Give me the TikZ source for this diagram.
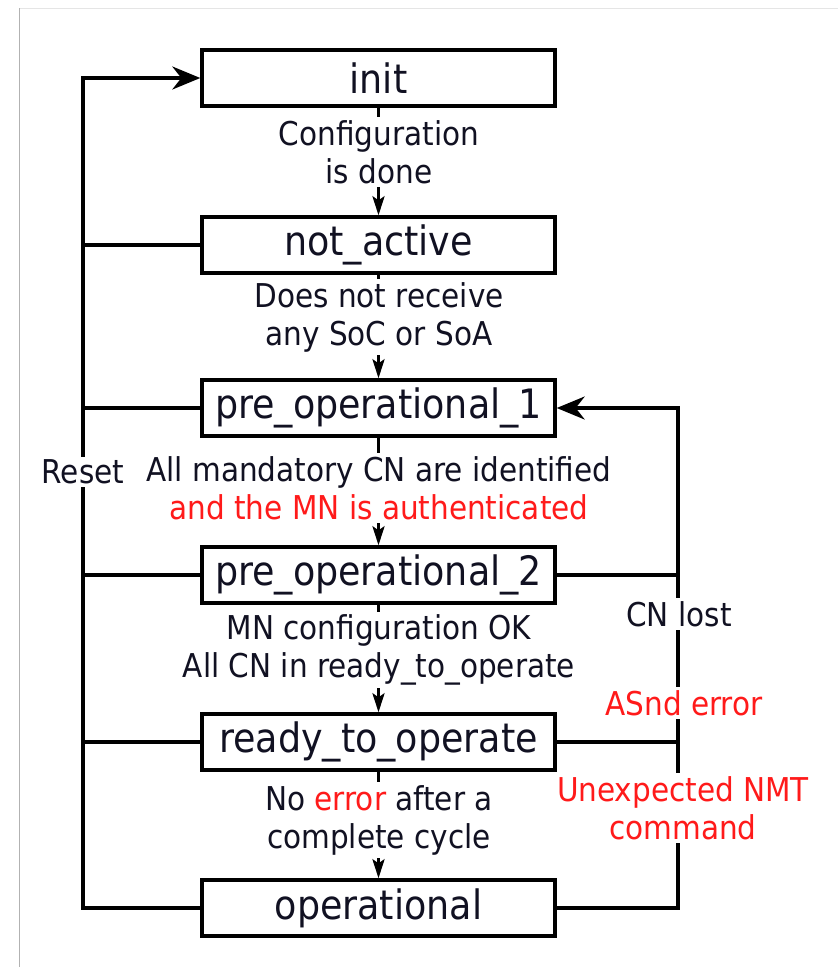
\documentclass[tikz,border=0pt]{standalone}
\usepackage{fontspec}
\setmainfont{DejaVu Sans Condensed}
\usetikzlibrary{arrows.meta}
\definecolor{txt}{HTML}{111122}
\definecolor{warn}{HTML}{FF1A1A}
\tikzset{
  state/.style={draw=black, line width=3.4pt, fill=white, minimum width=353pt,
    minimum height=56pt, inner sep=0pt, text=txt,
    font=\fontsize{40.5}{46}\selectfont},
  cond/.style={fill=white, inner sep=3pt, align=center, text=txt,
    font=\fontsize{32.8}{38}\selectfont},
  wire/.style={line width=3.1pt, line cap=butt, line join=miter},
  bigtip/.style={wire, -{Stealth[length=28pt, width=23pt, inset=9pt]}},
  smalltip/.style={wire, -{Stealth[length=19pt, width=12pt, inset=4pt]}},
}
\begin{document}
\begin{tikzpicture}[x=1pt, y=-1pt]
  \useasboundingbox (0,0) rectangle (838,967);
  \fill[white] (0,0) rectangle (838,967);
  % frame edges
  \draw[black!10, line width=1pt] (19,8) -- (838,8);
  \draw[black!30, line width=1pt] (19,8) -- (19,967);

  % states
  \node[state] (init)  at (378.5,78)  {init};
  \node[state] (nact)  at (378.5,245) {not\_active};
  \node[state] (pre1)  at (378.5,408) {pre\_operational\_1};
  \node[state] (pre2)  at (378.5,575) {pre\_operational\_2};
  \node[state] (ready) at (378.5,742) {ready\_to\_operate};
  \node[state] (oper)  at (378.5,908) {operational};

  % corners of the reset bus (left) and the error bus (right)
  \coordinate (lt) at (83,78);
  \coordinate (lb) at (83,908);
  \coordinate (rt) at (678,408);
  \coordinate (rb) at (678,908);

  % forward transitions
  \draw[smalltip] (init.south)  -- (nact.north);
  \draw[smalltip] (nact.south)  -- (pre1.north);
  \draw[smalltip] (pre1.south)  -- (pre2.north);
  \draw[smalltip] (pre2.south)  -- (ready.north);
  \draw[smalltip] (ready.south) -- (oper.north);

  % reset bus back to init
  \draw[bigtip] (oper.west) -- (lb) -- (lt) -- (init.west);
  \draw[wire] (nact.west)  -- (nact.west -| lt);
  \draw[wire] (pre1.west)  -- (pre1.west -| lt);
  \draw[wire] (pre2.west)  -- (pre2.west -| lt);
  \draw[wire] (ready.west) -- (ready.west -| lt);

  % error bus back to pre_operational_1
  \draw[bigtip] (oper.east) -- (rb) -- (rt) -- (pre1.east);
  \draw[wire] (pre2.east)  -- (pre2.east -| rt);
  \draw[wire] (ready.east) -- (ready.east -| rt);

  % transition conditions
  \node[cond] (c1) at (379,152) {Configuration\\is done};
  \node[cond] (c2) at (379,317) {Does not receive\\any SoC or SoA};
  \node[cond] (c3) at (379,488) {All mandatory CN are identified\\\textcolor{warn}{and the MN is authenticated}};
  \node[cond] (c4) at (379,650) {MN configuration OK\\All CN in ready\_to\_operate};
  \node[cond] (c5) at (379,820) {No \textcolor{warn}{error} after a\\complete cycle};

  \node[cond] (reset) at (83,472) {Reset};
  \node[cond] (lost)  at (679,614) {CN lost};
  \node[cond, text=warn] (asnd) at (684,703) {ASnd error};
  \node[cond, text=warn] (nmt)  at (683,808) {Unexpected NMT\\command};
\end{tikzpicture}
\end{document}
